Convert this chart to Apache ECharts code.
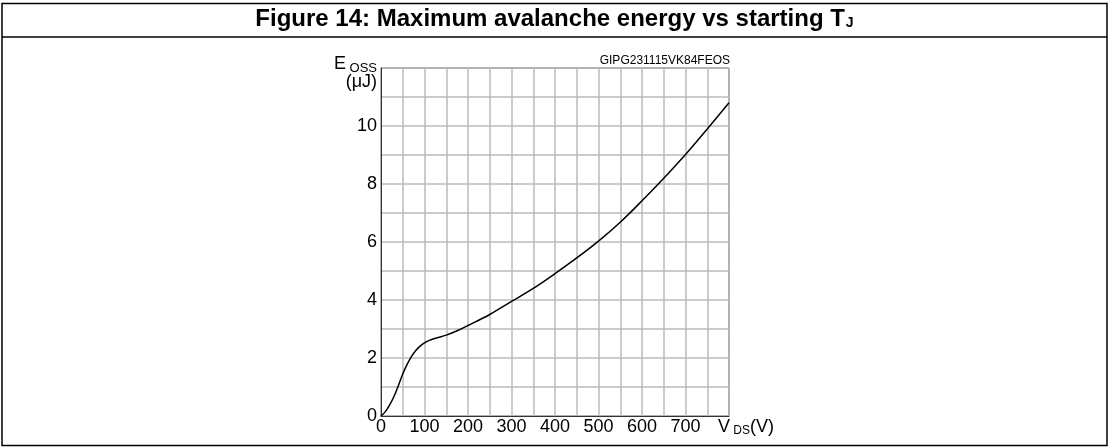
<!DOCTYPE html>
<html>
<head>
<meta charset="utf-8">
<script src="https://cdn.jsdelivr.net/npm/echarts@6/dist/echarts.min.js"></script>
<style>
  html, body { margin: 0; padding: 0; background: #fff; }
  #main { width: 1109px; height: 448px; }
</style>
</head>
<body>
<div id="main"></div>
<script>
// VDS (V) vs Eoss (uJ)
var vds = [0, 10, 20, 30, 40, 50, 60, 70, 80, 90, 100, 110, 125, 150, 175, 200, 250, 300, 350, 400, 450, 500, 550, 600, 650, 700, 750, 800];
var eoss = [0, 0.15, 0.38, 0.68, 1.05, 1.45, 1.78, 2.05, 2.26, 2.41, 2.52, 2.6, 2.68, 2.79, 2.94, 3.12, 3.5, 3.95, 4.4, 4.91, 5.45, 6.03, 6.68, 7.42, 8.2, 9.02, 9.9, 10.8];
var xTicks = [0, 100, 200, 300, 400, 500, 600, 700];
var yTicks = [0, 2, 4, 6, 8, 10];

var font = 'Liberation Sans, Arial, sans-serif';
var myChart = echarts.init(document.getElementById('main'));

var option = {
  backgroundColor: '#fff',
  animation: false,
  title: [
    {
      text: '{t|Figure 14: Maximum avalanche energy vs starting T}{s|J}',
      left: 'center',
      top: 5,
      padding: 0,
      textStyle: {
        rich: {
          t: { fontFamily: font, fontWeight: 'bold', fontSize: 24, color: '#000', lineHeight: 28 },
          s: { fontFamily: font, fontWeight: 'bold', fontSize: 14, color: '#000', padding: [9, 0, 0, 1] }
        }
      }
    },
    {
      text: 'GIPG231115VK84FEOS',
      right: 379,
      top: 55,
      padding: 0,
      textStyle: { fontFamily: font, fontWeight: 'normal', fontSize: 12, color: '#000' }
    }
  ],
  graphic: [
    { type: 'rect', shape: { x: 2, y: 3.5, width: 1105, height: 442 }, style: { fill: 'none', stroke: '#000', lineWidth: 1.5 } },
    { type: 'line', shape: { x1: 2, y1: 37, x2: 1107, y2: 37 }, style: { stroke: '#000', lineWidth: 1.5 } }
  ],
  grid: {
    left: 381, right: 380, top: 68, bottom: 32,
    show: true, borderColor: '#333', borderWidth: 1
  },
  xAxis: {
    type: 'value',
    min: 0, max: 800, interval: 50,
    axisLine: { show: true, lineStyle: { color: '#333', width: 1 } },
    axisTick: { show: false },
    splitLine: { show: true, lineStyle: { color: '#bbb', width: 1.5 } },
    axisLabel: {
      margin: 2,
      fontFamily: font, fontSize: 18, color: '#000',
      formatter: function (v) {
        if (v === 800) return '{v|V}{s| DS}{n|(V)}';
        return xTicks.indexOf(v) >= 0 ? String(v) : '';
      },
      rich: {
        v: { fontFamily: font, fontSize: 18, color: '#000', padding: [0, 0, 0, 34] },
        s: { fontFamily: font, fontSize: 12, color: '#000', padding: [7, 0, 0, 0] },
        n: { fontFamily: font, fontSize: 18, color: '#000' }
      }
    }
  },
  yAxis: {
    type: 'value',
    min: 0, max: 12, interval: 1,
    name: '{e|E}{s| OSS}\n{e|(μJ)}',
    nameLocation: 'end',
    nameGap: -5,
    nameTextStyle: {
      align: 'right',
      verticalAlign: 'middle',
      padding: [0, 4, 0, 0],
      rich: {
        e: { fontFamily: font, fontSize: 18, color: '#000', lineHeight: 18 },
        s: { fontFamily: font, fontSize: 13, color: '#000', padding: [8, 0, 0, 0], lineHeight: 18 }
      }
    },
    axisLine: { show: true, lineStyle: { color: '#333', width: 1 } },
    axisTick: { show: false },
    splitLine: { show: true, lineStyle: { color: '#bbb', width: 1.5 } },
    axisLabel: {
      margin: 4,
      fontFamily: font, fontSize: 18, color: '#000',
      formatter: function (v) {
        return yTicks.indexOf(v) >= 0 ? String(v) : '';
      }
    }
  },
  series: [{
    type: 'line',
    data: vds.map(function (v, i) { return [v, eoss[i]]; }),
    smooth: 0.35,
    showSymbol: false,
    lineStyle: { color: '#000', width: 1.5 }
  }]
};

myChart.setOption(option);
</script>
</body>
</html>
